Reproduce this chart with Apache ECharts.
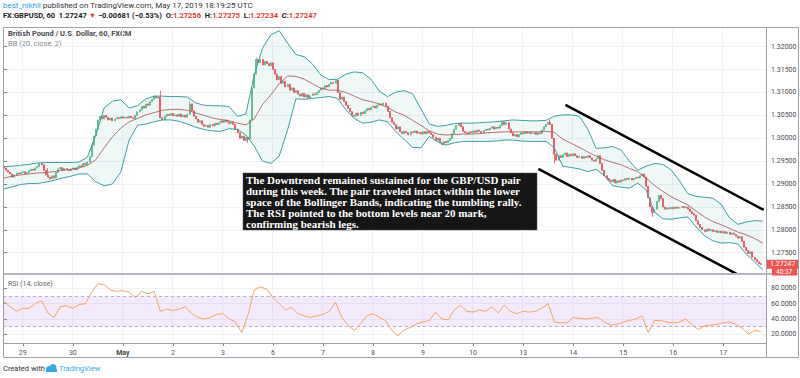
<!DOCTYPE html>
<html><head><meta charset="utf-8">
<script src="https://cdn.jsdelivr.net/npm/echarts/dist/echarts.min.js"></script>
<style>html,body{margin:0;padding:0;background:#fff}#c{width:800px;height:378px}</style>
</head><body><div id="c"></div>
<script>
// ---------- DATA ----------
const slotCount = 366;
const firstOpen = 1.2938;
const closes = [
1.2935,1.2930,1.2926,1.2922,1.2915,1.2920,1.2924,1.2922,1.2925,
1.2927,1.2923,1.2925,1.2929,1.2932,1.2930,1.2935,1.2938,1.2945,1.2942,
1.2930,1.2920,1.2915,1.2911,1.2918,1.2913,
1.2925,1.2933,1.2936,1.2930,1.2934,1.2931,1.2929,1.2933,1.2935,1.2931,1.2936,1.2940,1.2938,
1.2945,1.2942,1.2948,1.2960,1.2985,1.3005,1.3020,1.3040,1.3048,
1.3042,1.3050,1.3046,1.3040,1.3044,1.3038,1.3042,1.3045,1.3043,1.3047,1.3044,1.3046,1.3044,1.3048,1.3045,1.3043,
1.3050,1.3058,1.3062,1.3070,1.3066,1.3075,1.3072,1.3080,1.3085,1.3092,1.3088,1.3090,1.3045,
1.3040,1.3048,1.3052,1.3050,1.3054,1.3049,1.3051,1.3048,1.3053,1.3047,1.3050,1.3046,1.3052,
1.3075,1.3060,1.3048,1.3042,1.3035,1.3038,1.3030,1.3026,1.3028,
1.3024,1.3030,1.3027,1.3033,1.3030,1.3034,1.3038,1.3035,1.3040,1.3036,1.3032,1.3035,1.3030,
1.3020,1.3012,1.3000,1.3005,1.2995,1.3002,1.2998,
1.3040,1.3110,1.3140,1.3172,1.3165,1.3172,1.3160,1.3168,1.3163,1.3158,1.3165,1.3150,
1.3140,1.3128,1.3135,1.3120,1.3124,1.3112,1.3118,1.3105,1.3110,1.3100,1.3104,1.3096,
1.3092,1.3098,1.3090,1.3095,1.3088,1.3093,1.3097,1.3095,1.3100,
1.3105,1.3110,1.3108,1.3115,1.3112,1.3118,1.3122,1.3120,1.3127,
1.3100,1.3085,1.3090,1.3080,1.3072,1.3065,1.3058,1.3050,1.3048,
1.3055,1.3050,1.3057,1.3054,1.3060,1.3065,1.3062,1.3068,1.3070,1.3066,1.3072,1.3075,1.3073,1.3077,
1.3070,1.3058,1.3045,1.3035,1.3030,1.3020,1.3025,1.3014,
1.3010,1.3015,1.3012,1.3008,1.3014,1.3012,1.3016,1.3011,1.3013,1.3009,1.3014,1.3010,1.3015,1.3012,1.3008,
1.3002,1.2995,1.3000,1.2990,1.2986,1.2993,1.2990,1.2995,1.3000,
1.3010,1.3020,1.3028,1.3033,1.3025,1.3015,1.3012,1.3010,1.3014,1.3012,
1.3016,1.3013,1.3018,1.3015,1.3012,1.3017,1.3020,1.3018,1.3022,1.3025,1.3020,1.3024,1.3022,
1.3028,1.3036,1.3030,1.3034,1.3020,1.3012,1.3005,1.3008,1.3003,
1.3008,1.3012,1.3010,1.3014,1.3011,1.3013,1.3010,1.3012,1.3008,1.3012,1.3010,
1.3018,1.3025,1.3030,1.3035,1.3030,1.3000,1.2965,1.2952,
1.2962,1.2958,1.2964,1.2968,1.2960,1.2965,1.2962,1.2966,
1.2962,1.2958,1.2960,1.2956,1.2960,1.2958,1.2962,1.2957,
1.2952,1.2950,1.2955,1.2962,1.2945,1.2930,1.2918,
1.2912,1.2908,1.2905,1.2910,1.2902,1.2907,1.2904,1.2909,
1.2908,1.2912,1.2910,1.2913,1.2909,1.2912,1.2915,1.2913,1.2918,1.2922,1.2915,
1.2895,1.2870,1.2850,1.2838,1.2845,1.2862,1.2875,1.2868,1.2850,1.2845,1.2848,
1.2846,1.2849,1.2846,1.2850,1.2847,1.2849,1.2851,1.2848,1.2850,1.2845,
1.2840,1.2835,1.2832,1.2820,1.2812,1.2805,1.2800,1.2796,1.2802,1.2798,
1.2800,1.2796,1.2798,1.2794,1.2797,1.2793,1.2796,1.2792,1.2795,1.2790,1.2793,1.2790,
1.2786,1.2782,1.2785,1.2775,1.2762,1.2755,1.2748,1.2752,1.2740,1.2735,
1.2730,1.27256,1.27247
];
const wickHighs = {21:1.2935, 75:1.3104, 89:1.3080, 121:1.3176, 262:1.3040, 363:1.27275};
const wickLows = {117:1.2990, 264:1.2945, 311:1.2828, 363:1.27234};

const dayLabels = ['29','30','May','2','3','6','7','8','9','10','13','14','15','16','17'];
const dayStartBars = [9,33,57,81,105,129,153,177,201,225,249,273,297,321,345];

const priceTicks = [1.275,1.28,1.285,1.29,1.295,1.30,1.305,1.31,1.315,1.32];
const rsiTicks = [20,40,60,80];
const rsiBands = [30,70];

const bbStep = 4;
const bbUpper = [
1.2938,1.2939,1.2941,1.2943,1.2946,1.2947,1.2947,1.2947,1.2947,1.2948,
1.2959,1.3007,1.3066,1.3081,1.3084,1.3066,1.3071,1.3086,1.3092,1.3092,
1.3091,1.3091,1.3090,1.3077,1.3072,1.3071,1.3071,1.3069,1.3048,1.3053,
1.3138,1.3197,1.3226,1.3235,1.3208,1.3183,1.3178,1.3162,1.3138,1.3128,
1.3129,1.3140,1.3145,1.3143,1.3129,1.3103,1.3091,1.3101,1.3104,1.3097,
1.3064,1.3031,1.3026,1.3028,1.3032,1.3033,1.3033,1.3034,1.3035,1.3036,
1.3038,1.3040,1.3039,1.3038,1.3038,1.3039,1.3048,1.3051,1.3051,1.3048,
1.3020,1.2978,1.2979,1.2982,1.2974,1.2950,1.2930,1.2939,1.2945,1.2943,
1.2931,1.2907,1.2879,1.2873,1.2871,1.2869,1.2856,1.2826,1.2812,1.2817,
1.2820,1.2819
];
const bbMiddle = [
1.2913,1.2917,1.2920,1.2922,1.2924,1.2925,1.2927,1.2930,1.2932,1.2935,
1.2941,1.2953,1.2979,1.3003,1.3022,1.3036,1.3043,1.3051,1.3056,1.3061,
1.3063,1.3063,1.3061,1.3055,1.3050,1.3044,1.3041,1.3038,1.3033,1.3029,
1.3042,1.3074,1.3095,1.3119,1.3136,1.3135,1.3129,1.3119,1.3109,1.3105,
1.3105,1.3100,1.3092,1.3084,1.3080,1.3075,1.3067,1.3057,1.3050,1.3039,
1.3028,1.3016,1.3009,1.3007,1.3008,1.3009,1.3009,1.3010,1.3012,1.3013,
1.3014,1.3014,1.3014,1.3014,1.3014,1.3015,1.3013,1.2998,1.2989,1.2980,
1.2970,1.2961,1.2953,1.2947,1.2942,1.2934,1.2927,1.2913,1.2897,1.2884,
1.2872,1.2863,1.2854,1.2841,1.2828,1.2818,1.2811,1.2803,1.2795,1.2789,
1.2781,1.2771
];
const bbLower = [
1.2889,1.2894,1.2899,1.2901,1.2901,1.2904,1.2908,1.2913,1.2917,1.2922,
1.2922,1.2905,1.2896,1.2900,1.2926,1.2996,1.3028,1.3031,1.3036,1.3040,
1.3040,1.3037,1.3031,1.3024,1.3019,1.3016,1.3015,1.3021,1.3019,1.3007,
1.2983,1.2950,1.2945,1.2961,1.3018,1.3086,1.3085,1.3087,1.3089,1.3091,
1.3087,1.3062,1.3043,1.3033,1.3035,1.3040,1.3036,1.3014,1.2997,1.2980,
1.2979,1.3004,1.2992,1.2985,1.2990,1.2993,1.2993,1.2993,1.2993,1.2994,
1.2996,1.2996,1.2994,1.2993,1.2993,1.2993,1.2979,1.2939,1.2936,1.2933,
1.2927,1.2932,1.2918,1.2896,1.2893,1.2891,1.2902,1.2887,1.2839,1.2824,
1.2823,1.2826,1.2828,1.2806,1.2787,1.2776,1.2771,1.2772,1.2769,1.2747,
1.2730,1.2712
];

const rsiStep = 3;
const rsiValues = [
63,56,50,54,54,60,64,48,42,56,
57,54,59,60,75,86,85,78,76,77,
75,68,76,73,76,50,53,51,53,56,
47,42,40,42,46,47,40,36,22,45,
78,82,79,68,60,52,55,47,44,42,
44,46,50,62,42,32,25,34,44,47,
42,38,25,18,26,29,34,36,38,49,
40,39,52,58,50,49,52,50,56,48,
58,50,47,50,49,50,54,60,36,35,
35,42,41,40,41,42,36,32,33,36,
38,40,44,22,38,38,36,35,36,40,
33,26,31,32,33,35,36,33,28,20,
25,24
];

const lastPrice = 1.27247;
const lastPriceText = '1.27247';
const countdownText = '40:37';
const trendLineUpper = [[269.3,1.30727],[364.4,1.28434]];
const trendLineLower = [[256.3,1.29329],[351.4,1.27036]];

const annotationLines = [
 'The Downtrend remained sustained for the GBP/USD pair',
 'during this week. The pair traveled intact within the lower',
 'space of the Bollinger Bands, indicating the tumbling rally.',
 'The RSI pointed to the bottom levels near 20 mark,',
 'confirming bearish legs.'
];

// ---------- BUILD ----------
const categories = Array.from({length: slotCount}, (_, i) => 'b' + i);
const labelAt = {};
dayStartBars.forEach((b, k) => { labelAt[b] = dayLabels[k]; });
const isDay = (i) => labelAt[i] !== undefined;

const candleData = closes.map((c, i) => {
  const o = i === 0 ? firstOpen : closes[i - 1];
  let h = Math.max(o, c), l = Math.min(o, c);
  if (wickHighs[i] !== undefined) h = Math.max(h, wickHighs[i]);
  if (wickLows[i] !== undefined) l = Math.min(l, wickLows[i]);
  return [o, c, l, h];
});
const toPts = (arr, step) => arr.map((v, k) => [k * step, v]);

const UP = '#53b987', DOWN = '#eb4d5c';
const GRID_LINE = '#eef2f6';
const FRAME = '#9da0a8';

const L = 3, W = 763;
const chart = echarts.init(document.getElementById('c'), null, {renderer: 'svg', width: 800, height: 378});

const graphics = [];
graphics.push({type:'text', left:3, top:1, style:{
  text:'{a|best_nikhil}{t| published on TradingView.com, May 17, 2019 18:19:25 UTC}',
  rich:{a:{fill:'#2a9df4', fontSize:8, fontFamily:'Roboto'}, t:{fill:'#333', fontSize:8, fontFamily:'Roboto'}}
}});
graphics.push({type:'text', left:3, top:11, style:{
  text:'{b|FX:GBPUSD, 60  1.27247 }{r|▼}{b| −0.00681 (−0.53%)  O:}{r|1.27256}{b|  H:}{r|1.27275}{b|  L:}{r|1.27234}{b|  C:}{r|1.27247}',
  rich:{b:{fill:'#222', fontSize:7.5, fontWeight:'bold', fontFamily:'Roboto'}, r:{fill:'#e53935', fontSize:7.5, fontWeight:'bold', fontFamily:'Roboto'}}
}});
graphics.push({type:'text', left:8, top:29, style:{text:'British Pound / U.S. Dollar, 60, FXCM', fill:'#4a4a4a', fontSize:7.5, fontWeight:'bold', fontFamily:'Roboto'}});
graphics.push({type:'text', left:8, top:39, style:{text:'BB (20, close, 2)', fill:'#888', fontSize:7.5, fontFamily:'Roboto'}});
graphics.push({type:'text', left:8, top:280, style:{text:'RSI (14, close)', fill:'#666', fontSize:7, fontFamily:'Roboto'}});
const ln = (x1,y1,x2,y2,c,w) => ({type:'line', silent:true, z:50, shape:{x1,y1,x2,y2}, style:{stroke:c, lineWidth:w||1}});
graphics.push(ln(3.5,27.5,798.5,27.5,FRAME));
graphics.push(ln(3.5,27.5,3.5,357.5,FRAME));
graphics.push(ln(798.5,27.5,798.5,357.5,FRAME));
graphics.push(ln(3.5,357.5,798.5,357.5,FRAME));
graphics.push(ln(766.5,27.5,766.5,357.5,FRAME));
graphics.push(ln(3.5,274,798.5,274,'#b4b7bf',2));
graphics.push(ln(3.5,343.5,766.5,343.5,FRAME));
graphics.push({type:'rect', z:60, shape:{x:243, y:173, width:294, height:57}, style:{fill:'#161616', stroke:'#555', lineWidth:0.5}});
annotationLines.forEach((t, k) => {
  graphics.push({type:'text', z:61, left:246, top:174 + k*11.2, style:{text:t, fill:'#fff', fontSize:11, fontWeight:'bold', fontFamily:'Liberation Serif'}});
});
graphics.push({type:'rect', z:60, shape:{x:772, y:268, width:25, height:7.5}, style:{fill:'#ef5350'}});
graphics.push({type:'text', z:61, left:776, top:268.5, style:{text:countdownText, fill:'#fff', fontSize:6.5, fontFamily:'Roboto'}});
graphics.push({type:'text', left:3, top:364, style:{text:'Created with', fill:'#333', fontSize:7.5, fontFamily:'Roboto'}});
graphics.push({type:'group', left:46, top:364, children:[
  {type:'circle', shape:{cx:4, cy:5, r:3}, style:{fill:'#38a9e4'}},
  {type:'circle', shape:{cx:8, cy:3.5, r:3.5}, style:{fill:'#38a9e4'}},
  {type:'rect', shape:{x:1, y:5, width:11, height:3}, style:{fill:'#38a9e4'}}
]});
graphics.push({type:'text', left:59, top:364, style:{text:'TradingView', fill:'#38a9e4', fontSize:7.5, fontFamily:'Roboto'}});

const option = {
  animation: false,
  backgroundColor: '#fff',
  grid: [
    {left: L, width: W, top: 27, height: 245},
    {left: L, width: W, top: 275, height: 68}
  ],
  xAxis: [
    {type:'category', gridIndex:0, data:categories, boundaryGap:true,
     axisLine:{show:false}, axisTick:{show:false}, axisLabel:{show:false},
     splitLine:{show:true, interval:(i)=>isDay(i), lineStyle:{color:GRID_LINE}}},
    {type:'value', gridIndex:0, min:-0.5, max:slotCount-0.5, show:false},
    {type:'category', gridIndex:1, data:categories, boundaryGap:true, position:'bottom',
     axisLine:{show:false},
     axisTick:{show:true, alignWithLabel:true, interval:(i)=>isDay(i), length:3, lineStyle:{color:'#888'}},
     axisLabel:{show:true, interval:(i)=>isDay(i), margin:6, fontSize:7, color:'#555', fontFamily:'Roboto',
       formatter:(v, i)=>{ const t = labelAt[i]; if (t === undefined) return ''; return t === 'May' ? '{m|May}' : t; },
       rich:{m:{fontWeight:'bold', fontSize:7, color:'#444', fontFamily:'Roboto'}}},
     splitLine:{show:true, interval:(i)=>isDay(i), lineStyle:{color:GRID_LINE}}},
    {type:'value', gridIndex:1, min:-0.5, max:slotCount-0.5, show:false}
  ],
  yAxis: [
    {type:'value', gridIndex:0, position:'right', min:1.27078, max:1.3243, scale:true,
     axisLine:{show:false},
     axisTick:{show:true, customValues:priceTicks, length:3, lineStyle:{color:'#888'}},
     axisLabel:{show:true, customValues:priceTicks, formatter:(v)=>Number(v).toFixed(5), fontSize:7, color:'#4a4a4a', margin:5, fontFamily:'Roboto'},
     splitLine:{show:true, lineStyle:{color:GRID_LINE}}},
    {type:'value', gridIndex:1, position:'right', min:8.6, max:97.5,
     axisLine:{show:false},
     axisTick:{show:true, customValues:rsiTicks, length:3, lineStyle:{color:'#888'}},
     axisLabel:{show:true, customValues:rsiTicks, formatter:(v)=>Number(v).toFixed(4), fontSize:7, color:'#4a4a4a', margin:5, fontFamily:'Roboto'},
     splitLine:{show:true, lineStyle:{color:GRID_LINE}}}
  ],
  series: [
    {type:'custom', xAxisIndex:1, yAxisIndex:0, z:1, silent:true, data:[0], clip:true,
     renderItem:(params, api)=>{
       const pts = [];
       bbUpper.forEach((v,k)=>pts.push(api.coord([k*bbStep, v])));
       for (let k = bbLower.length-1; k >= 0; k--) pts.push(api.coord([k*bbStep, bbLower[k]]));
       return {type:'polygon', shape:{points:pts}, style:{fill:'rgba(25,140,140,0.07)'}};
     }},
    {type:'candlestick', xAxisIndex:0, yAxisIndex:0, z:3, data:candleData, barWidth:1.5,
     itemStyle:{color:UP, color0:DOWN, borderColor:UP, borderColor0:DOWN, borderWidth:0.8},
     markLine:{silent:true, symbol:'none', data:[{yAxis:lastPrice}],
       lineStyle:{color:'#ef5350', type:'dotted', width:1, opacity:0.7},
       label:{show:false}}},
    {type:'line', xAxisIndex:1, yAxisIndex:0, z:4, data:toPts(bbUpper,bbStep), showSymbol:false,
     lineStyle:{color:'#3b9fa3', width:1}},
    {type:'line', xAxisIndex:1, yAxisIndex:0, z:4, data:toPts(bbMiddle,bbStep), showSymbol:false,
     lineStyle:{color:'#a85a57', width:1, opacity:0.85}},
    {type:'line', xAxisIndex:1, yAxisIndex:0, z:4, data:toPts(bbLower,bbStep), showSymbol:false,
     lineStyle:{color:'#3b9fa3', width:1}},
    {type:'line', xAxisIndex:1, yAxisIndex:0, z:10, data:trendLineUpper, showSymbol:false, clip:false,
     lineStyle:{color:'#000', width:2.5}},
    {type:'line', xAxisIndex:1, yAxisIndex:0, z:10, data:trendLineLower, showSymbol:false, clip:false,
     lineStyle:{color:'#000', width:2.5}},
    {type:'line', xAxisIndex:3, yAxisIndex:1, z:4, data:toPts(rsiValues,rsiStep), showSymbol:false,
     lineStyle:{color:'#f7a35c', width:1},
     markArea:{silent:true, itemStyle:{color:'rgba(155,90,230,0.12)'}, data:[[{yAxis:rsiBands[0]},{yAxis:rsiBands[1]}]]},
     markLine:{silent:true, symbol:'none', label:{show:false},
       lineStyle:{color:'#b9aecb', type:[3,3], width:1}, data:[{yAxis:rsiBands[0]},{yAxis:rsiBands[1]}]}}
  ],
  graphic: graphics
};
chart.setOption(option);

// price label on the axis, placed at the last price via the axis scale
const py = chart.convertToPixel({yAxisIndex:0}, lastPrice);
chart.setOption({graphic: graphics.concat([
  {type:'rect', z:60, shape:{x:767, y:py-4.5, width:31, height:9}, style:{fill:'#ef5350'}},
  {type:'text', z:61, left:770, top:py-4, style:{text:lastPriceText, fill:'#fff', fontSize:7, fontFamily:'Roboto'}}
])});
</script>
</body></html>
